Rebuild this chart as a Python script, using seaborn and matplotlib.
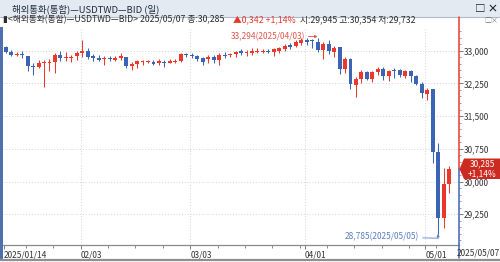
import numpy as np
import pandas as pd
import matplotlib
matplotlib.use("Agg")
import matplotlib.pyplot as plt
import seaborn as sns
from matplotlib.patches import Rectangle, Polygon
from matplotlib.lines import Line2D
from matplotlib.ticker import MultipleLocator

# ---------------- data ----------------
opens = [33078, 32970, 32908, 32931, 32872, 32656, 32619, 32718, 32718, 32734,
         32894, 32833, 32840, 32872, 32947, 32986, 32872, 32833, 32810, 32833,
         32794, 32833, 32849, 32642, 32695, 32734, 32734, 32750, 32711, 32748,
         32725, 32741, 32771, 32924, 32908, 32878, 32826, 32803, 32862, 32787,
         32908, 32901, 32924, 32986, 32940, 32940, 32977, 32977, 33000, 32977,
         33000, 33032, 33131, 33108, 33183, 33245, 33245, 33206, 33016, 33147,
         32977, 33092, 32573, 32803, 32213, 32344, 32504, 32344, 32504, 32573,
         32420, 32557, 32557, 32427, 32534, 32427, 32229, 32007, 32115, 30683,
         29155, 29945]
highs = [33108, 33016, 32970, 32986, 32880, 32718, 32794, 32794, 32816, 32947,
         32986, 32970, 32908, 33000, 33252, 33062, 32924, 32894, 32872, 32872,
         32872, 32947, 32860, 32741, 32794, 32794, 32794, 32790, 32803, 32787,
         32803, 32803, 32940, 32955, 32940, 32901, 32862, 32901, 32901, 32940,
         32977, 32955, 33000, 33032, 33016, 33055, 33055, 33032, 33032, 33055,
         33092, 33154, 33170, 33245, 33284, 33284, 33268, 33294, 33206, 33245,
         33115, 33092, 32862, 32826, 32404, 32557, 32534, 32541, 32619, 32619,
         32557, 32596, 32580, 32557, 32557, 32443, 32289, 32137, 32115, 30876,
         30302, 30354]
lows = [32947, 32872, 32872, 32833, 32527, 32436, 32603, 32160, 32527, 32488,
        32757, 32771, 32741, 32794, 32849, 32816, 32771, 32771, 32679, 32757,
        32757, 32794, 32603, 32565, 32603, 32679, 32718, 32680, 32672, 32633,
        32711, 32711, 32748, 32849, 32826, 32771, 32672, 32711, 32711, 32672,
        32826, 32862, 32862, 32901, 32878, 32901, 32940, 32955, 32955, 32878,
        32955, 33000, 33032, 33092, 33131, 33131, 33069, 32977, 32810, 32917,
        32862, 32459, 32481, 32115, 31945, 32252, 32328, 32289, 32443, 32328,
        32305, 32381, 32404, 32381, 32289, 32213, 31908, 31869, 30417, 28785,
        28926, 29732]
closes = [32970, 32894, 32931, 32894, 32642, 32619, 32718, 32734, 32741, 32894,
          32833, 32862, 32862, 32947, 33000, 32855, 32833, 32794, 32833, 32810,
          32833, 32872, 32642, 32695, 32757, 32757, 32771, 32690, 32764, 32711,
          32764, 32764, 32924, 32901, 32885, 32803, 32748, 32862, 32787, 32901,
          32878, 32924, 32977, 32940, 32970, 33000, 33000, 32993, 32977, 33032,
          33055, 33108, 33092, 33206, 33245, 33206, 33223, 33016, 33147, 32993,
          33069, 32573, 32803, 32229, 32344, 32504, 32351, 32504, 32573, 32427,
          32534, 32541, 32443, 32534, 32427, 32236, 32023, 32098, 30683, 29155,
          29943, 30285]
dates = pd.bdate_range("2025-01-14", "2025-05-07")
month_starts = ["2025-01-14", "2025-02-03", "2025-03-03", "2025-04-01", "2025-05-01"]
month_labels = ["2025/01/14", "02/03", "03/03", "04/01", "05/01"]
ytick_values = [29250, 30000, 30750, 31500, 32250, 33000]
last_close = 30285
high_note = "33,294(2025/04/03)"
low_note = "28,785(2025/05/05)"

# ---------------- style ----------------
sns.set_theme(style="white")
plt.rcParams['font.family'] = ['Noto Sans CJK KR', 'DejaVu Sans']

RED = "#e8392c"
BLUE = "#3c64b4"
DARK = "#2b2b2b"

W, H = 500, 262
fig = plt.figure(figsize=(5, 2.62), dpi=100)
fig.patch.set_facecolor("white")


def fx(x):
    return x / W


def fy(y):
    return 1 - y / H


AX_L, AX_R, AX_T, AX_B = 3, 459, 28, 245
ax = fig.add_axes([fx(AX_L), fy(AX_B), fx(AX_R) - fx(AX_L), fy(AX_T) - fy(AX_B)])
ax.set_facecolor("white")

n = len(opens)
x = np.arange(n)
o, h, l, c = (np.array(v, dtype=float) for v in (opens, highs, lows, closes))
up = c >= o
cols = np.where(up, RED, BLUE)

# wicks and bodies
ax.vlines(x, l, h, colors=cols, lw=0.75, zorder=2)
bottoms = np.minimum(o, c)
heights = np.maximum(np.abs(c - o), 24)
ax.bar(x, heights, bottom=bottoms, width=0.72, color=cols, edgecolor="none",
       lw=0, zorder=3)

# limits
step = 5.473
x0px = 5.7
ax.set_xlim(-(x0px - AX_L) / step, (AX_R - x0px) / step)
ppu = 0.0436  # pixels per unit
ax.set_ylim(33000 - (AX_B - 50.7) / ppu, 33000 + (50.7 - AX_T) / ppu)

# grid
for v in ytick_values:
    ax.axhline(v, color="#cfcfcf", lw=0.6, ls=(0, (1.2, 2.2)), zorder=1)
date_index = {d.strftime("%Y-%m-%d"): i for i, d in enumerate(dates)}
month_pos = [date_index[m] - 0.3 for m in month_starts]
for p in month_pos[1:]:
    ax.axvline(p, color="#cfcfcf", lw=0.6, ls=(0, (1.2, 2.2)), zorder=1)

# y axis on the right
ax.yaxis.tick_right()
ax.set_yticks(ytick_values)
ax.set_yticklabels([f"{v:,}" for v in ytick_values])
ax.yaxis.set_minor_locator(MultipleLocator(150))
ax.tick_params(axis='y', which='major', length=3, width=0.6, color="#666666",
               pad=0.5, labelsize=6, labelcolor="#333333", right=True, left=False)
ax.tick_params(axis='y', which='minor', length=1.5, width=0.5, color="#777777",
               right=True, left=False)

# x axis
ax.set_xticks(month_pos)
ax.set_xticklabels(month_labels)
for lbl in ax.get_xticklabels():
    lbl.set_ha('left')
mondays = [i - 0.3 for i, d in enumerate(dates) if d.weekday() == 0]
ax.set_xticks(mondays, minor=True)
ax.tick_params(axis='x', which='major', length=3, width=0.6, color="#666666",
               pad=1, labelsize=6, labelcolor="#333333", bottom=True)
ax.tick_params(axis='x', which='minor', length=2, width=0.6, color="#777777",
               bottom=True)

sns.despine(ax=ax, left=True, right=True, top=True)
ax.spines['bottom'].set_color("#8a8a8a")
ax.spines['bottom'].set_linewidth(0.9)

# annotations
i_high = date_index["2025-04-03"]
i_low = date_index["2025-05-05"]
ax.annotate(high_note, xy=(i_high, 33325), xytext=(i_high - 2.3, 33325),
            ha='right', va='center', fontsize=6, color="#e0574f",
            arrowprops=dict(arrowstyle='-|>', color="#e0574f", lw=0.6,
                            mutation_scale=4, shrinkA=0, shrinkB=0))
y_low_line = 28700
ax.annotate(low_note, xy=(i_low, y_low_line), xytext=(i_low - 3.4, y_low_line + 25),
            ha='right', va='center', fontsize=6, color="#5a7ec4",
            arrowprops=dict(arrowstyle='-', color="#5a7ec4", lw=0.6,
                            shrinkA=0, shrinkB=0))
ax.annotate("", xy=(i_low, 28800), xytext=(i_low, y_low_line),
            arrowprops=dict(arrowstyle='-|>', color="#5a7ec4", lw=0.6,
                            mutation_scale=4, shrinkA=0, shrinkB=0))

# ---------------- chrome around the chart ----------------
# title bar
fig.add_artist(Rectangle((0, fy(17)), 1, 17 / H, transform=fig.transFigure,
                         facecolor="#e4eaf2", edgecolor="none", zorder=0))
fig.add_artist(Line2D([0, 1], [fy(17), fy(17)], transform=fig.transFigure,
                      color="#aebbcb", lw=0.8))
fig.text(fx(12), fy(9), "해외통화(통합)—USDTWD—BID (일)", fontsize=6.8,
         color="#1f2a3c", va='center', ha='left')
fig.text(fx(498), fy(9), "□ ×", fontsize=7.5, color="#222222",
         va='center', ha='right', fontweight='bold')
fig.text(fx(498), fy(21), "□×", fontsize=5, color="#777777",
         va='center', ha='right')

# info line
fig.text(fx(3), fy(20), "▮<해외통화(통합)—USDTWD—BID> 2025/05/07 종:30,285",
         fontsize=6.3, color=DARK, va='center', ha='left')
fig.text(fx(233), fy(20), "▲0,342 +1,14%", fontsize=6.3, color=RED,
         va='center', ha='left')
fig.text(fx(300), fy(20), "시:29,945 고:30,354 저:29,732", fontsize=6.3,
         color=DARK, va='center', ha='left')

# left frame bar
fig.add_artist(Rectangle((0, fy(259)), fx(2.6), (259 - 27) / H,
                         transform=fig.transFigure, facecolor="#4f6fae",
                         edgecolor="none"))

# right axis line split at the last close
y_close_px = 50.7 + (33000 - last_close) * ppu
fig.add_artist(Line2D([fx(459), fx(459)], [fy(17), fy(y_close_px)],
                      transform=fig.transFigure, color=RED, lw=1.1))
fig.add_artist(Line2D([fx(459), fx(459)], [fy(y_close_px), fy(258)],
                      transform=fig.transFigure, color=BLUE, lw=1.1))

# price tag
tag = Polygon([(fx(459.5), fy(y_close_px)), (fx(464), fy(158.5)), (fx(500), fy(158.5)),
               (fx(500), fy(179)), (fx(464), fy(179))], closed=True,
              transform=fig.transFigure, facecolor="#cc2b22", edgecolor="none",
              zorder=5)
fig.add_artist(tag)
fig.text(fx(482), fy(164), "30,285", fontsize=6, color="white", ha='center',
         va='center', zorder=6)
fig.text(fx(482), fy(173.5), "+1,14%", fontsize=6, color="white", ha='center',
         va='center', zorder=6)

# last date on the right
fig.text(fx(457), fy(253), "2025/05/07", fontsize=6, color="#333333",
         ha='left', va='center')

# bottom border
fig.add_artist(Line2D([0, 1], [fy(260), fy(260)], transform=fig.transFigure,
                      color="#8f8f8f", lw=1.6))

fig.savefig("out.png", dpi=100)
